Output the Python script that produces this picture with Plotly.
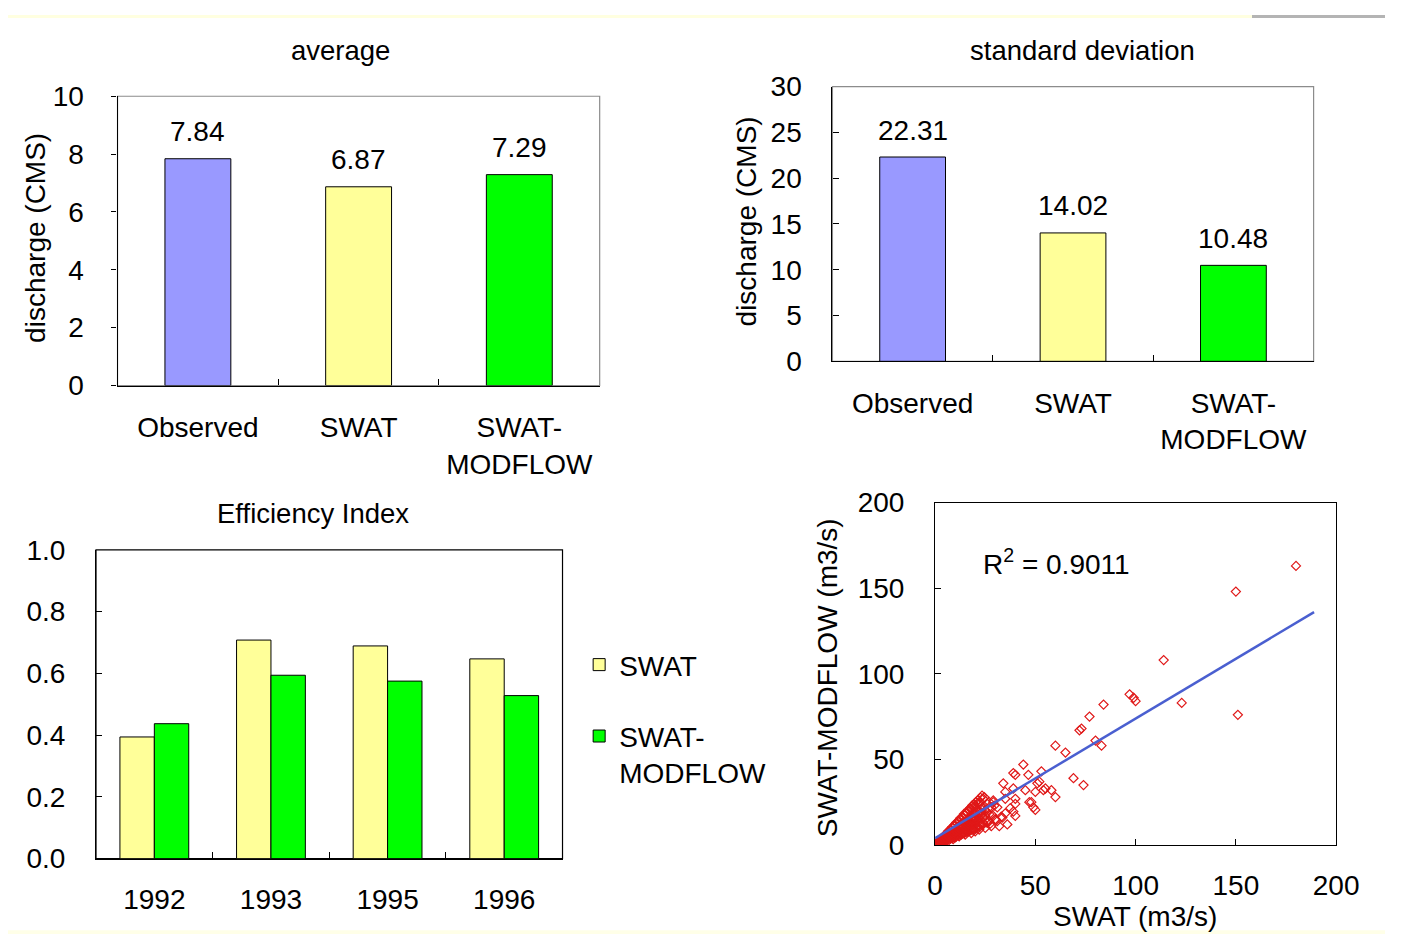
import plotly.graph_objects as go

W, H = 1408, 950

# ---------------- data ----------------
avg_categories = ["Observed", "SWAT", "SWAT-MODFLOW"]
avg_tick_labels = ["Observed", "SWAT", "SWAT-<br>MODFLOW"]
avg_values = [7.84, 6.87, 7.29]
std_values = [22.31, 14.02, 10.48]
bar_colors = ["#9999ff", "#ffff99", "#00ff00"]

ei_years = ["1992", "1993", "1995", "1996"]
ei_swat = [0.394, 0.708, 0.689, 0.647]
ei_swat_modflow = [0.437, 0.594, 0.575, 0.528]

scatter_swat = [180, 150, 151, 114, 123, 97, 99, 100, 84, 77, 73, 72, 80, 83, 60, 65, 69, 74, 58, 60,
                55, 53, 54, 51, 46.5, 44, 40, 39, 47, 49, 50, 48, 34, 35, 39, 45, 52, 50, 35, 40,
                40, 24.5, 29, 31, 37.5, 39, 40, 33.5, 35, 28.5, 30, 22, 20.5, 19, 36, 32,
                0.5, 1, 1.5, 2, 2, 3, 3, 4, 4, 5, 5, 5, 6, 6, 6, 7, 7, 7, 8, 8,
                8, 9, 9, 9, 10, 10, 10, 11, 11, 11, 12, 12, 12, 13, 13, 13, 14, 14, 14, 15,
                15, 15, 16, 16, 16, 17, 17, 17, 18, 18, 18, 19, 19, 19, 20, 20, 20, 21, 21, 21,
                22, 22, 22, 23, 23, 24, 24, 25, 25, 26, 26, 27, 28, 28, 29, 30, 3, 4, 6, 8,
                9, 10, 11, 12, 13, 14, 15, 16, 17, 18, 19, 20, 21, 22, 23, 24, 25, 26, 27, 27,
                1, 2, 3, 5, 7, 8, 10, 12, 14, 16, 18, 20, 24,
                1.5, 2.5, 3.5, 4.6, 5.4, 6.5, 7.6, 8.4, 9.5, 10.6, 11.4, 12.5, 13.6, 14.4, 15.5, 16.6,
                17.4, 18.5, 19.6, 20.4, 21.5, 22.6, 23.4,
                1.4, 2.6, 3.4, 4.5, 5.6, 6.4, 7.5, 8.6, 9.4, 10.5, 11.6, 12.4, 13.5, 14.6, 15.4, 16.5,
                17.6, 18.4, 19.5, 20.6, 21.4, 22.5, 23.6,
                1.6, 2.4, 3.6, 4.4, 5.5, 6.6, 7.4, 8.5, 9.6, 10.4, 11.5, 12.6, 13.4, 14.5, 15.6, 16.4,
                17.5, 18.6, 19.4, 20.5, 21.6, 22.4, 23.5, 25.5, 26.5, 27.5, 29.5, 31, 33]
scatter_swat_modflow = [163, 148, 76, 108, 83, 88, 86, 84, 82, 75, 68, 67, 61, 58, 58, 54, 39, 35, 32, 28,
                        33, 43, 32, 36, 41, 47, 41, 42, 25, 22, 20.5, 25, 36, 31, 33, 32, 37, 31, 27, 27,
                        24, 28, 25, 22, 21.5, 19.5, 17, 16, 18.5, 17.5, 15, 24, 21.5, 18.5, 12, 11,
                        0.8, 1.5, 1, 2.5, 1.2, 2, 3.5, 2.5, 4.5, 3, 5.5, 2, 4, 6.5, 3, 5, 7.5, 3, 6, 9,
                        4, 5, 10, 3.5, 7, 11.5, 4.5, 6, 12.5, 9, 5, 14, 8, 10, 15, 6, 7, 16, 11, 9,
                        17.5, 6, 12, 19, 8, 10, 20, 14, 7, 21, 12, 16, 22, 9, 13, 23, 8, 17, 24, 11,
                        14, 25, 9, 19, 12, 27, 16, 20, 10, 24, 13, 18, 22, 11, 26, 15, 1.5, 3.5, 5, 5,
                        7, 9, 7.5, 10.5, 12, 9, 13, 15, 12, 16, 12, 18, 14, 19, 21, 13, 17, 19, 25, 14,
                        0.6, 1.8, 2.8, 4, 6, 7.5, 6, 11.5, 13, 10.5, 17.5, 16, 22,
                        1.7, 3.1, 4.0, 5.6, 6.4, 8.1, 9.0, 10.4, 11.6, 13.1, 13.9, 15.6, 16.4, 18.1, 18.9, 20.6,
                        21.4, 23.1, 23.9, 25.2, 26.4, 27.6, 28.8,
                        0.8, 1.2, 1.9, 2.1, 2.8, 3.1, 3.7, 4.0, 4.6, 4.9, 5.6, 5.9, 6.6, 6.9, 7.6, 7.9,
                        8.6, 8.9, 9.6, 9.9, 10.6, 10.9, 11.6,
                        1.1, 2.1, 2.7, 3.6, 4.1, 5.1, 5.7, 6.6, 7.1, 8.1, 8.7, 9.6, 10.1, 11.1, 11.7, 12.6,
                        13.1, 14.1, 14.7, 15.6, 16.1, 17.1, 17.7, 13.5, 21.5, 12.5, 23, 14, 16.5]
fit_x = [0, 189]
fit_y = [4, 136]
r_squared = 0.9011

# ---------------- helpers ----------------
FONT = "Liberation Sans, Arial, sans-serif"
TICK_SIZE = 28
TITLE_SIZE = 27.5


def px(x):
    return x / W


def py(y):
    return 1 - y / H


fig = go.Figure()

# Panel 1: average
fig.add_trace(go.Bar(x=avg_categories, y=avg_values, marker=dict(color=bar_colors, line=dict(color="black", width=1)),
                     width=0.41, xaxis="x", yaxis="y", showlegend=False, hoverinfo="x+y"))
# Panel 2: standard deviation
fig.add_trace(go.Bar(x=avg_categories, y=std_values, marker=dict(color=bar_colors, line=dict(color="black", width=1)),
                     width=0.41, xaxis="x2", yaxis="y2", showlegend=False, hoverinfo="x+y"))
# Panel 3: efficiency index
fig.add_trace(go.Bar(x=ei_years, y=ei_swat, name="SWAT", marker=dict(color="#ffff99", line=dict(color="black", width=1)),
                     xaxis="x3", yaxis="y3", legendgroup="a"))
fig.add_trace(go.Bar(x=ei_years, y=ei_swat_modflow, name="SWAT-<br>MODFLOW",
                     marker=dict(color="#00ff00", line=dict(color="black", width=1)),
                     xaxis="x3", yaxis="y3", legendgroup="b"))
# Panel 4: scatter
fig.add_trace(go.Scatter(x=scatter_swat, y=scatter_swat_modflow, mode="markers",
                         marker=dict(symbol="diamond-open", size=7, color="#e01818", line=dict(width=1.2)),
                         xaxis="x4", yaxis="y4", showlegend=False))
fig.add_trace(go.Scatter(x=fit_x, y=fit_y, mode="lines", line=dict(color="#4a5fd0", width=2.5),
                         xaxis="x4", yaxis="y4", showlegend=False))

common_axis = dict(showgrid=False, zeroline=False, showline=True, linecolor="black", linewidth=1.2,
                   tickfont=dict(size=TICK_SIZE, color="black", family=FONT), ticklen=6,
                   tickcolor="black", fixedrange=True)

layout_axes = dict(
    xaxis=dict(domain=[px(112), px(605)], anchor="y", type="category", tickvals=avg_categories,
               ticktext=avg_tick_labels, ticks="inside", tickson="boundaries", ticklabelstandoff=17, **common_axis),
    yaxis=dict(domain=[py(383), py(84)], anchor="x", range=[0, 10], dtick=2, ticks="outside", ticklen=5,
               ticklabelstandoff=22, **{k: v for k, v in common_axis.items() if k != "ticklen"}),
    xaxis2=dict(domain=[px(843), px(1335)], anchor="y2", type="category", tickvals=avg_categories,
                ticktext=avg_tick_labels, ticks="inside", tickson="boundaries", ticklabelstandoff=17, **common_axis),
    yaxis2=dict(domain=[py(358), py(74)], anchor="x2", range=[0, 30], dtick=5, ticks="inside",
                ticklabelstandoff=24, **common_axis),
    xaxis3=dict(domain=[px(90), px(567)], anchor="y3", type="category", ticks="inside", tickson="boundaries",
                ticklabelstandoff=16, **common_axis),
    yaxis3=dict(domain=[py(872), py(553)], anchor="x3", range=[0, 1.0], dtick=0.2, tickformat=".1f",
                ticks="inside", ticklabelstandoff=24, **common_axis),
    xaxis4=dict(domain=[px(948), px(1358)], anchor="y4", range=[0, 200], dtick=50, ticks="inside",
                ticklabelstandoff=15, mirror=True, **common_axis),
    yaxis4=dict(domain=[py(858), py(504)], anchor="x4", range=[0, 200], dtick=50, ticks="inside",
                ticklabelstandoff=24, mirror=True, **common_axis),
)

annotations = []


def text_ann(x, y, text, size=TICK_SIZE, angle=0):
    annotations.append(dict(x=px(x), y=py(y), xref="paper", yref="paper", text=text, showarrow=False,
                            textangle=angle, xanchor="center", yanchor="middle",
                            font=dict(size=size, color="black", family=FONT)))


text_ann(340, 37, "average", TITLE_SIZE)
text_ann(1099, 37, "standard deviation", TITLE_SIZE)
text_ann(312, 515, "Efficiency Index", TITLE_SIZE)
text_ann(28, 230, "discharge (CMS)", TICK_SIZE, -90)
text_ann(755, 213, "discharge (CMS)", TICK_SIZE, -90)
text_ann(838, 685, "SWAT-MODFLOW (m3/s)", TICK_SIZE, -90)
text_ann(1152, 932, "SWAT (m3/s)", TICK_SIZE)
annotations.append(dict(x=px(995), y=py(565), xref="paper", yref="paper",
                        text=f"R<sup>2</sup> = {r_squared:.4f}", showarrow=False, xanchor="left", yanchor="middle",
                        font=dict(size=TICK_SIZE, color="black", family=FONT)))

# value labels above bars
for ax_x, ax_y, vals in (("x", "y", avg_values), ("x2", "y2", std_values)):
    for cat, v in zip(avg_categories, vals):
        annotations.append(dict(x=cat, y=v, xref=ax_x, yref=ax_y, text=f"{v:.2f}", showarrow=False,
                                yanchor="middle", yshift=27, font=dict(size=TICK_SIZE, color="black", family=FONT)))

shapes = [
    dict(type="rect", xref="x domain", yref="y domain", x0=0, x1=1, y0=0, y1=1, line=dict(color="#8c8c8c", width=1.2), layer="below"),
    dict(type="rect", xref="x2 domain", yref="y2 domain", x0=0, x1=1, y0=0, y1=1, line=dict(color="#8c8c8c", width=1.2), layer="below"),
    dict(type="rect", xref="x3 domain", yref="y3 domain", x0=0, x1=1, y0=0, y1=1, line=dict(color="black", width=1.2), layer="below"),
    dict(type="rect", xref="paper", yref="paper", x0=0, x1=1, y0=py(3), y1=1, line=dict(width=0), fillcolor="#ffffe0", layer="below"),
    dict(type="rect", xref="paper", yref="paper", x0=px(1272), x1=1, y0=py(3), y1=1, line=dict(width=0), fillcolor="#b4b4b4", layer="below"),
    dict(type="rect", xref="paper", yref="paper", x0=0, x1=1, y0=0, y1=py(946), line=dict(width=0), fillcolor="#ffffe8", layer="below"),
]

fig.update_layout(
    width=W, height=H, margin=dict(l=0, r=0, t=0, b=0, pad=0),
    paper_bgcolor="white", plot_bgcolor="white",
    font=dict(family=FONT, color="black", size=TICK_SIZE),
    barmode="group", bargap=0.41, bargroupgap=0,
    showlegend=True,
    legend=dict(x=px(584), y=py(646), xanchor="left", yanchor="top", bgcolor="rgba(0,0,0,0)", valign="top",
                font=dict(size=TICK_SIZE, color="black", family=FONT), tracegroupgap=32, itemwidth=30),
    annotations=annotations, shapes=shapes,
    **layout_axes,
)

fig.write_html(
    "out.html", config={"displayModeBar": False},
    post_script=("document.documentElement.style.margin='0';document.body.style.margin='0';"
                 "document.body.style.overflow='hidden';"
                 "var d=document.getElementById('{plot_id}');d.style.position='fixed';"
                 "d.style.left='0px';d.style.top='0px';"),
)
